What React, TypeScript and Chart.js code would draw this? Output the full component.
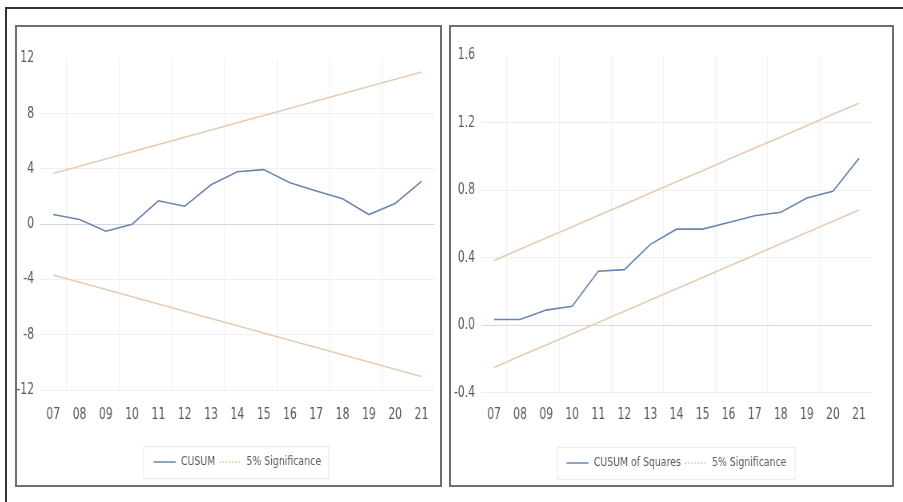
import React, { useEffect, useRef } from "react";
import { Chart, registerables } from "chart.js";

Chart.register(...registerables);

// Years of the recursive-residual window (2007–2021)
const YEARS = ["07", "08", "09", "10", "11", "12", "13", "14", "15", "16", "17", "18", "19", "20", "21"];

// CUSUM statistic and its 5% significance bounds
const CUSUM = [0.7, 0.35, -0.5, 0.0, 1.7, 1.3, 2.85, 3.8, 3.95, 3.0, 2.4, 1.85, 0.7, 1.5, 3.1];
const CUSUM_UPPER = [3.67, 4.19, 4.72, 5.24, 5.77, 6.29, 6.82, 7.34, 7.87, 8.39, 8.91, 9.44, 9.96, 10.49, 11.01];
const CUSUM_LOWER = [-3.67, -4.19, -4.72, -5.24, -5.77, -6.29, -6.82, -7.34, -7.87, -8.39, -8.91, -9.44, -9.96, -10.49, -11.01];
const CUSUM_TICKS = [-12, -8, -4, 0, 4, 8, 12];

// CUSUM of squares statistic and its 5% significance bounds
const CUSUMSQ = [0.034, 0.034, 0.09, 0.113, 0.32, 0.33, 0.48, 0.57, 0.57, 0.61, 0.65, 0.67, 0.755, 0.795, 0.99];
const CUSUMSQ_UPPER = [0.384, 0.451, 0.517, 0.584, 0.651, 0.717, 0.784, 0.851, 0.917, 0.984, 1.051, 1.117, 1.184, 1.251, 1.317];
const CUSUMSQ_LOWER = [-0.25, -0.183, -0.117, -0.05, 0.017, 0.083, 0.15, 0.217, 0.283, 0.35, 0.417, 0.483, 0.55, 0.617, 0.683];
const CUSUMSQ_TICKS = [-0.4, 0.0, 0.4, 0.8, 1.2, 1.6];

const STAT_COLOR = "#6a84b1";
const BOUND_COLOR = "#e6cab3";
const TEXT_COLOR = "#585858";
const FONT = "'Liberation Sans Narrow', 'DejaVu Sans Condensed', 'Arial Narrow', 'Liberation Sans', sans-serif";

// The charts are drawn on a wider canvas and compressed horizontally,
// which gives the tall, narrow lettering of the original figure.
const SQUEEZE = 0.8;

type Layout = {
  innerWidth: number; // on-screen width of the drawing area (px)
  yWidth: number; // on-screen width of the y-axis label column (px)
  padTop: number;
  padRight: number; // on-screen (px)
  padBottom: number;
  xHeight: number;
  xTickGap: number;
};

type PanelSpec = {
  statLabel: string;
  stat: number[];
  upper: number[];
  lower: number[];
  ticks: number[];
  digits: number;
  layout: Layout;
};

// Faint frame around the legend entries
const legendFrame = {
  id: "legendFrame",
  afterDraw(chart: any) {
    const lg = chart.legend;
    if (!lg || !lg.legendHitBoxes || !lg.legendHitBoxes.length) return;
    const boxes = lg.legendHitBoxes;
    const left = Math.min(...boxes.map((b: any) => b.left)) - 12;
    const right = Math.max(...boxes.map((b: any) => b.left + b.width)) + 10;
    const cy = boxes[0].top + boxes[0].height / 2;
    const ctx = chart.ctx;
    ctx.save();
    ctx.strokeStyle = "#ececec";
    ctx.lineWidth = 1.2;
    ctx.strokeRect(Math.round(left), Math.round(cy - 16) + 0.5, Math.round(right - left), 32);
    ctx.restore();
  },
};

function buildConfig(spec: PanelSpec): any {
  const { layout } = spec;
  const line = (label: string, data: number[], color: string, extra: any) => ({
    label,
    data,
    borderColor: color,
    backgroundColor: color,
    borderWidth: 1.6,
    pointRadius: 0,
    tension: 0,
    ...extra,
  });
  return {
    type: "line",
    data: {
      labels: YEARS,
      datasets: [
        line(spec.statLabel, spec.stat, STAT_COLOR, { legendDash: [] }),
        line("5% Significance", spec.upper, BOUND_COLOR, { legendDash: [2, 2] }),
        line("", spec.lower, BOUND_COLOR, { noLegend: true }),
      ],
    },
    options: {
      animation: false,
      responsive: true,
      maintainAspectRatio: false,
      events: [],
      font: { family: FONT },
      layout: {
        padding: {
          top: layout.padTop,
          right: layout.padRight / SQUEEZE,
          bottom: layout.padBottom,
          left: 0,
        },
      },
      scales: {
        x: {
          type: "category",
          offset: true,
          grid: {
            offset: true,
            drawTicks: true,
            tickLength: layout.xTickGap,
            tickColor: "rgba(0,0,0,0)",
            lineWidth: 1.2,
            color: (ctx: any) => (ctx.index % 2 === 1 ? "#f1f1f1" : "rgba(0,0,0,0)"),
          },
          border: { display: false },
          ticks: {
            autoSkip: false,
            maxRotation: 0,
            padding: 0,
            color: TEXT_COLOR,
            font: { family: FONT, size: 15 },
          },
          afterFit: (scale: any) => {
            scale.height = layout.xHeight;
          },
        },
        y: {
          type: "linear",
          min: spec.ticks[0],
          max: spec.ticks[spec.ticks.length - 1],
          afterBuildTicks: (scale: any) => {
            scale.ticks = spec.ticks.map((v) => ({ value: v }));
          },
          afterFit: (scale: any) => {
            scale.width = layout.yWidth / SQUEEZE;
          },
          grid: {
            drawTicks: false,
            lineWidth: 1,
            color: (ctx: any) => {
              const v = ctx.tick ? ctx.tick.value : NaN;
              if (Math.abs(v) < 1e-9) return "#d5d8de";
              if (v === spec.ticks[spec.ticks.length - 1]) return "rgba(0,0,0,0)";
              return "#efefef";
            },
          },
          border: { display: false },
          ticks: {
            padding: 6 / SQUEEZE,
            color: TEXT_COLOR,
            font: { family: FONT, size: 15 },
            callback: (v: any) => Number(v).toFixed(spec.digits),
          },
        },
      },
      plugins: {
        title: { display: false },
        tooltip: { enabled: false },
        legend: {
          display: true,
          position: "bottom",
          fullSize: false,
          labels: {
            usePointStyle: true,
            pointStyleWidth: 22 / SQUEEZE,
            padding: 5,
            color: TEXT_COLOR,
            font: { family: FONT, size: 13 },
            generateLabels: (chart: any) =>
              chart.data.datasets
                .map((ds: any, i: number) => ({ ds, i }))
                .filter(({ ds }: any) => !ds.noLegend)
                .map(({ ds, i }: any) => ({
                  text: ds.label,
                  fillStyle: ds.borderColor,
                  strokeStyle: ds.borderColor,
                  lineWidth: 1.6,
                  lineDash: ds.legendDash,
                  pointStyle: "line",
                  hidden: false,
                  datasetIndex: i,
                  fontColor: TEXT_COLOR,
                })),
          },
        },
      },
    },
    plugins: [legendFrame],
  };
}

function ChartPanel({ spec, style }: { spec: PanelSpec; style: React.CSSProperties }) {
  const canvasRef = useRef<HTMLCanvasElement | null>(null);
  useEffect(() => {
    if (!canvasRef.current) return;
    const chart = new Chart(canvasRef.current, buildConfig(spec));
    return () => chart.destroy();
  }, [spec]);
  return (
    <div
      style={{
        position: "absolute",
        boxSizing: "border-box",
        border: "2px solid #6f6f6f",
        background: "#ffffff",
        overflow: "hidden",
        ...style,
      }}
    >
      <div
        style={{
          position: "absolute",
          left: 0,
          top: 0,
          width: spec.layout.innerWidth / SQUEEZE,
          height: "100%",
          transform: `scaleX(${SQUEEZE})`,
          transformOrigin: "0 0",
        }}
      >
        <canvas ref={canvasRef} />
      </div>
    </div>
  );
}

const CUSUM_SPEC: PanelSpec = {
  statLabel: "CUSUM",
  stat: CUSUM,
  upper: CUSUM_UPPER,
  lower: CUSUM_LOWER,
  ticks: CUSUM_TICKS,
  digits: 0,
  layout: { innerWidth: 423, yWidth: 23, padTop: 31.3, padRight: 6.2, padBottom: 6.5, xHeight: 60.3, xTickGap: 15.5 },
};

const CUSUMSQ_SPEC: PanelSpec = {
  statLabel: "CUSUM of Squares",
  stat: CUSUMSQ,
  upper: CUSUMSQ_UPPER,
  lower: CUSUMSQ_LOWER,
  ticks: CUSUMSQ_TICKS,
  digits: 1,
  layout: { innerWidth: 441, yWidth: 30, padTop: 28.5, padRight: 20, padBottom: 5.5, xHeight: 58.8, xTickGap: 13.3 },
};

export default function App() {
  return (
    <div
      style={{
        position: "absolute",
        left: 0,
        top: 0,
        width: 903,
        height: 502,
        overflow: "hidden",
        background: "#ffffff",
      }}
    >
      <div
        style={{
          position: "absolute",
          left: 5,
          top: 7,
          width: 920,
          height: 520,
          borderLeft: "2px solid #333333",
          borderTop: "2px solid #333333",
        }}
      />
      <ChartPanel spec={CUSUM_SPEC} style={{ left: 15, top: 25, width: 427, height: 462 }} />
      <ChartPanel spec={CUSUMSQ_SPEC} style={{ left: 449, top: 25, width: 445, height: 462 }} />
    </div>
  );
}
